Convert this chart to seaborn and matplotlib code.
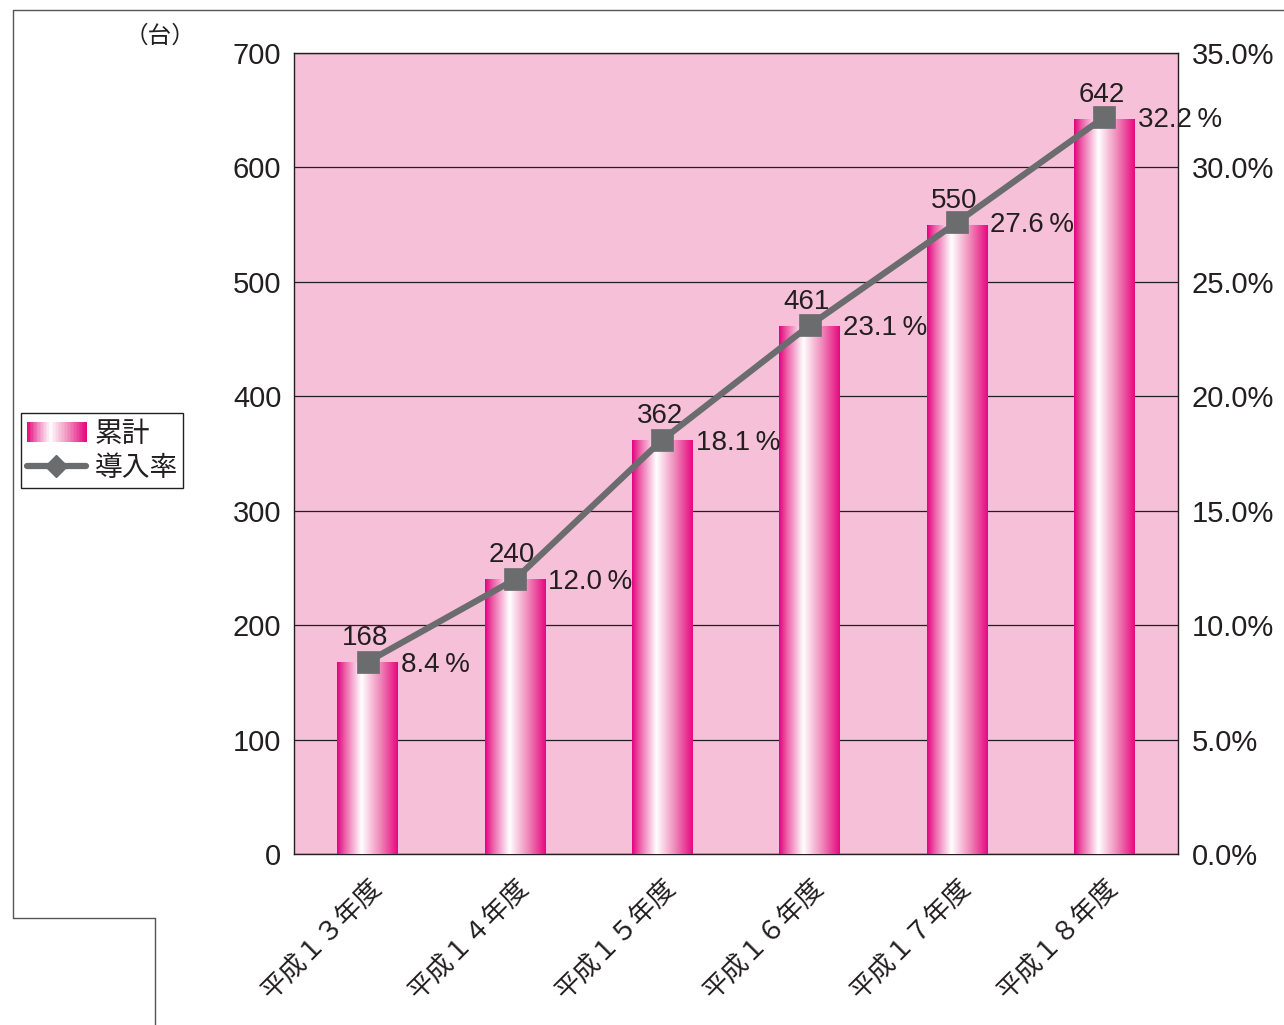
import numpy as np
import pandas as pd
import matplotlib
matplotlib.use("Agg")
import matplotlib.pyplot as plt
import seaborn as sns
from matplotlib.colors import LinearSegmentedColormap
from matplotlib.lines import Line2D
from matplotlib.patches import Rectangle
from matplotlib.legend_handler import HandlerBase

categories = ["平成１３年度", "平成１４年度", "平成１５年度", "平成１６年度", "平成１７年度", "平成１８年度"]
cumulative = [168, 240, 362, 461, 550, 642]
rate = [8.4, 12.0, 18.1, 23.1, 27.6, 32.2]
left_ticks = [0, 100, 200, 300, 400, 500, 600, 700]
right_ticks = [0, 5, 10, 15, 20, 25, 30, 35]

sns.set_theme(style="white")
plt.rcParams["font.family"] = ["Noto Sans CJK JP", "DejaVu Sans"]

BG = "#f6c0d9"
LINE = "#6b6c6e"
TXT = "#231f20"
NUMFONT = ["Liberation Sans", "DejaVu Sans"]
grad_cmap = LinearSegmentedColormap.from_list(
    "g", [(0.0, "#e4007f"), (0.12, "#ec5aa6"), (0.40, "#ffffff"),
          (0.70, "#f08dbb"), (1.0, "#e5087f")])

df = pd.DataFrame({"cat": categories, "val": cumulative, "rate": rate})

fig = plt.figure(figsize=(12.84, 10.25), dpi=100)
ax = fig.add_axes([294/1284, 1-854/1025, (1178-294)/1284, (854-53)/1025])
ax.set_facecolor(BG)

sns.barplot(data=df, x="cat", y="val", ax=ax, width=0.41, color="#e4007f",
            linewidth=0, zorder=3)
ax.set_xlim(-0.5, len(categories)-0.5)
ax.set_ylim(0, 700)

grad = np.linspace(0, 1, 256).reshape(1, -1)
for p in list(ax.patches):
    x0, y0 = p.get_x(), p.get_y()
    w, h = p.get_width(), p.get_height()
    im = ax.imshow(grad, cmap=grad_cmap, aspect="auto",
                   extent=[x0, x0+w, y0, y0+h], zorder=3, interpolation="bicubic")
    im.set_clip_path(p)
    p.set_facecolor("none")
ax.set_xlim(-0.5, len(categories)-0.5)
ax.set_ylim(0, 700)

ax.set_yticks(left_ticks)
ax.set_yticklabels([str(t) for t in left_ticks], fontsize=21, color=TXT, family=NUMFONT)
ax.yaxis.grid(True, color="#231f20", linewidth=0.9, zorder=1)
ax.set_axisbelow(True)
ax.tick_params(axis="y", length=0, pad=9)
ax.tick_params(axis="x", length=0, pad=14)
ax.set_xlabel("")
ax.set_ylabel("")
ax.set_xticks(range(len(categories)))
ax.set_xticklabels(categories, rotation=45, ha="right", rotation_mode="anchor",
                   fontsize=19, color=TXT)
for s in ax.spines.values():
    s.set_color("#231f20")
    s.set_linewidth(1.0)

for i, v in enumerate(cumulative):
    ax.annotate(str(v), (i, v), xytext=(-2, 8), textcoords="offset points",
                ha="center", va="bottom", fontsize=20, color=TXT,
                family=NUMFONT, zorder=6)

ax2 = ax.twinx()
sns.pointplot(data=df, x="cat", y="rate", ax=ax2, color=LINE, markers="s",
              linestyles="-", linewidth=4.5, markersize=12.5, zorder=5)
ax2.set_xlim(-0.5, len(categories)-0.5)
ax2.set_ylim(0, 35)
ax2.set_yticks(right_ticks)
ax2.set_yticklabels([f"{t:.1f}%" for t in right_ticks], fontsize=21, color=TXT,
                    family=NUMFONT)
ax2.tick_params(axis="y", length=0, pad=10)
ax2.set_ylabel("")
ax2.set_xlabel("")
ax2.grid(False)
for s in ax2.spines.values():
    s.set_visible(False)

for i, r in enumerate(rate):
    ax2.annotate(f"{r:.1f}\u2009%", (i, r), xytext=(24, -2), textcoords="offset points",
                 ha="left", va="center", fontsize=20, color=TXT,
                 family=NUMFONT, zorder=6)

fig.text(160/1284, 1-36/1025, "（台）", fontsize=17, color=TXT, ha="center", va="center")


class GradHandler(HandlerBase):
    def create_artists(self, legend, orig_handle, xdescent, ydescent, width, height, fontsize, trans):
        arts = []
        n = 40
        for k in range(n):
            c = grad_cmap((k + 0.5) / n)
            r = Rectangle((-xdescent + width * k / n, -ydescent), width / n + 0.3, height,
                          facecolor=c, edgecolor="none", transform=trans)
            arts.append(r)
        return arts


bar_handle = Rectangle((0, 0), 1, 1)
line_handle = Line2D([0], [0], color=LINE, linewidth=4.5, marker="D", markersize=11)
leg = fig.legend([bar_handle, line_handle], ["累計", "導入率"],
                 handler_map={Rectangle: GradHandler()},
                 loc="upper left", bbox_to_anchor=(21/1284, 1-413/1025),
                 fontsize=20, frameon=True, fancybox=False, framealpha=1,
                 edgecolor="#231f20", borderpad=0.2, handlelength=2.15,
                 handletextpad=0.3, labelspacing=0.15, borderaxespad=0)
leg.get_frame().set_linewidth(1.0)
for t in leg.get_texts():
    t.set_color(TXT)

def fl(x1, y1, x2, y2):
    fig.add_artist(Line2D([x1/1284, x2/1284], [1-y1/1025, 1-y2/1025],
                          color="#555555", linewidth=1.0, transform=fig.transFigure))

fl(13, 10, 1284, 10)
fl(13, 10, 13, 918)
fl(13, 918, 155, 918)
fl(155, 918, 155, 1025)

fig.savefig("out.png", dpi=100, facecolor="white")
